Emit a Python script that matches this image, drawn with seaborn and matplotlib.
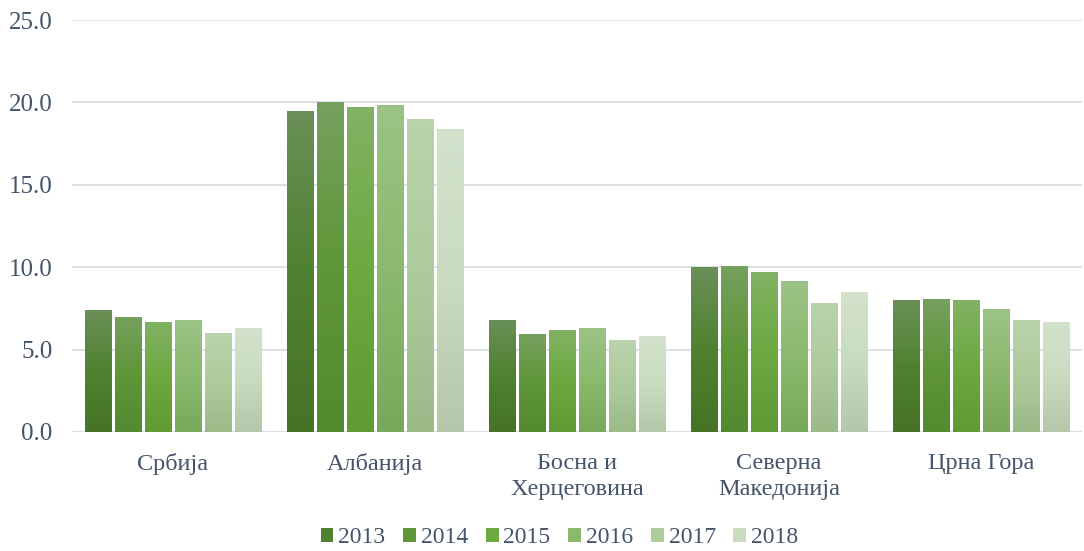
import numpy as np
import pandas as pd
import matplotlib
matplotlib.use("Agg")
import matplotlib.pyplot as plt
from matplotlib.patches import Patch
from matplotlib.colors import to_rgb
import seaborn as sns

# ---- data ----
countries = ["Србија", "Албанија", "Босна и\nХерцеговина", "Северна\nМакедонија", "Црна Гора"]
years = ["2013", "2014", "2015", "2016", "2017", "2018"]
v2013 = [7.4, 19.5, 6.8, 10.0, 8.0]
v2014 = [7.0, 20.0, 5.95, 10.1, 8.05]
v2015 = [6.7, 19.7, 6.2, 9.7, 8.0]
v2016 = [6.8, 19.85, 6.3, 9.15, 7.45]
v2017 = [6.0, 19.0, 5.6, 7.85, 6.8]
v2018 = [6.3, 18.4, 5.85, 8.5, 6.7]
y_ticks = [0, 5, 10, 15, 20, 25]

series = [v2013, v2014, v2015, v2016, v2017, v2018]

# ---- style ----
mid_colors = ["#4F8230", "#5F9638", "#6CA940", "#8BBA6E", "#AECB9C", "#C9DCC0"]
top_colors = ["#6A8F58", "#76A05E", "#82B264", "#9BC386", "#B9D3AC", "#D2E2CB"]
bot_colors = ["#467326", "#548A2F", "#5F9A35", "#78A85A", "#9BBA88", "#B4C7AB"]
text_color = "#44546A"
grid_color = "#D9DEE5"

rows = []
for y, vals in zip(years, series):
    for c, v in zip(countries, vals):
        rows.append({"country": c, "year": y, "value": v})
df = pd.DataFrame(rows)

sns.set_theme(style="white")
plt.rcParams["font.family"] = ["Liberation Serif", "DejaVu Serif"]

fig = plt.figure(figsize=(10.84, 5.51), dpi=100)
ax = fig.add_axes([0.0664, 0.216, 0.9316, 0.7477])

sns.barplot(data=df, x="country", y="value", hue="year", order=countries,
            hue_order=years, palette=mid_colors, width=0.89, gap=0.13,
            legend=False, ax=ax, zorder=2, linewidth=0)

def grad(bot, mid, top, n=256):
    b, m, t = map(np.array, (to_rgb(bot), to_rgb(mid), to_rgb(top)))
    s = np.linspace(0, 1, n)[:, None]
    lower = b + (m - b) * (s / 0.5)
    upper = m + (t - m) * ((s - 0.5) / 0.5)
    arr = np.where(s < 0.5, lower, upper)
    return arr[:, None, :]

for i, cont in enumerate(ax.containers):
    g = grad(bot_colors[i], mid_colors[i], top_colors[i])
    for p in cont.patches:
        x0, y0 = p.get_x(), p.get_y()
        w, h = p.get_width(), p.get_height()
        im = ax.imshow(g, extent=[x0, x0 + w, y0, y0 + h], origin="lower",
                       aspect="auto", zorder=2.5, interpolation="bilinear")
        im.set_clip_path(p)
        p.set_facecolor("none")

ax.set_xlim(-0.5, len(countries) - 0.5)
ax.set_ylim(0, 25)
ax.set_yticks(y_ticks)
ax.set_yticklabels([f"{t:.1f}" for t in y_ticks])
ax.yaxis.grid(True, color=grid_color, linewidth=1.3, zorder=0)
ax.set_axisbelow(True)
for s in ax.spines.values():
    s.set_visible(False)
ax.axhline(0, color=grid_color, linewidth=1.6, zorder=1)
ax.tick_params(axis="both", length=0, colors=text_color)
ax.tick_params(axis="y", pad=14, labelsize=18)
ax.tick_params(axis="x", pad=15, labelsize=17.5)
for lab in ax.get_xticklabels():
    lab.set_linespacing(1.3)
ax.set_xlabel("")
ax.set_ylabel("")

handles = [Patch(facecolor=c, edgecolor="none") for c in mid_colors]
fig.legend(handles, years, loc="center", bbox_to_anchor=(0.516, 0.024), ncol=6,
           frameon=False, fontsize=17, handlelength=0.55, handleheight=0.55,
           handletextpad=0.2, columnspacing=0.75, labelcolor=text_color,
           borderpad=0.1)

fig.savefig("out.png", dpi=100)
